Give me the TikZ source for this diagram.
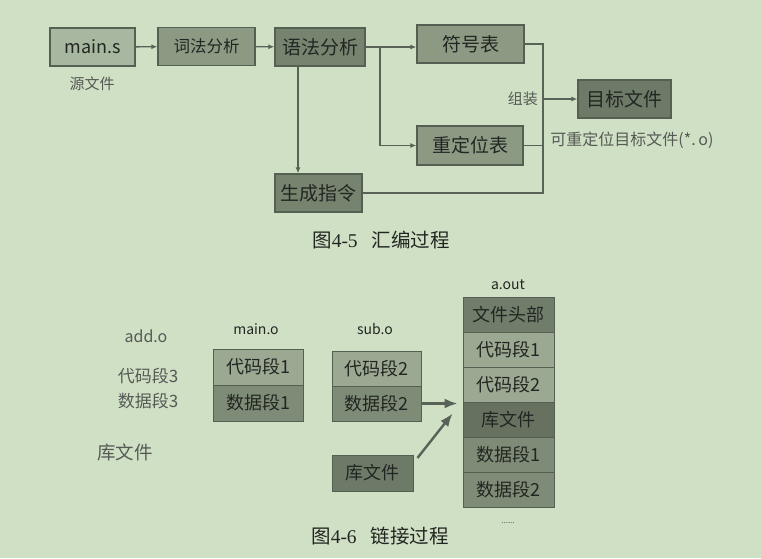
\documentclass[tikz,border=0pt]{standalone}
\usepackage{fontspec}
\setmainfont{Noto Sans CJK SC}
\newfontfamily\digitfont{Liberation Serif}
\usepackage{tikz}
\usetikzlibrary{positioning,arrows.meta}
\definecolor{bgc}{HTML}{D0E0C5}
\definecolor{edgec}{HTML}{555F52}
\definecolor{linec}{HTML}{596257}
\definecolor{txtc}{HTML}{222622}
\definecolor{lblc}{HTML}{555A55}
\definecolor{fillA}{HTML}{A8B79F}
\definecolor{fillB}{HTML}{8C9A84}
\definecolor{fillC}{HTML}{76846F}
\definecolor{fillD}{HTML}{6D7A68}
\definecolor{segcode}{HTML}{9BA892}
\definecolor{segdata}{HTML}{7E8B76}
\definecolor{seglib}{HTML}{66725F}
\definecolor{seghead}{HTML}{707D6A}
\tikzset{
  flowarrow/.style={-{Latex[length=6pt,width=5pt]}, line width=1.4pt, draw=linec},
  bigarrow/.style={-{Latex[length=13pt,width=10pt]}, line width=2.4pt, draw=linec},
  plainline/.style={line width=1.4pt, draw=linec},
  stagebox/.style={draw=edgec, line width=1.3pt, text=txtc, inner sep=0pt, align=center},
  segbox/.style={draw=edgec, line width=0.9pt, text=txtc, inner sep=0pt, minimum height=35pt, font=\fontsize{18}{20}\selectfont},
  lbl/.style={text=lblc, inner sep=1pt},
  filelbl/.style={text=txtc, inner sep=1pt, font=\fontsize{14}{16}\selectfont},
  caption/.style={text=txtc, inner sep=1pt, font=\fontsize{19.5}{22}\selectfont}
}
\begin{document}
\begin{tikzpicture}[x=1pt, y=-1pt]
  \useasboundingbox (0,0) rectangle (761,558);
  \fill[bgc] (0,0) rectangle (761,558);
  % assembly process
  \node[stagebox, fill=fillA, minimum width=85pt, minimum height=38pt, font=\fontsize{18}{20}\selectfont] (mains) at (92.5,47) {main.s};
  \node[lbl, font=\fontsize{15}{17}\selectfont] (srclbl) at (92,84) {源文件};
  \node[stagebox, fill=fillB, minimum width=97pt, minimum height=38pt, font=\fontsize{16.5}{18}\selectfont] (cifa) at (206.5,46.5) {词法分析};
  \node[stagebox, fill=fillC, minimum width=90pt, minimum height=38pt, font=\fontsize{19}{21}\selectfont] (yufa) at (320,47) {语法分析};
  \node[stagebox, fill=fillC, minimum width=87pt, minimum height=38pt, font=\fontsize{19}{21}\selectfont] (gen) at (318.5,193) {生成指令};
  \node[stagebox, fill=fillB, minimum width=107pt, minimum height=38pt, font=\fontsize{19}{21}\selectfont] (symtab) at (470.5,44) {符号表};
  \node[stagebox, fill=fillB, minimum width=106pt, minimum height=39pt, font=\fontsize{19}{21}\selectfont] (reloc) at (470,145.5) {重定位表};
  \node[stagebox, fill=fillD, minimum width=93pt, minimum height=38pt, font=\fontsize{19}{21}\selectfont] (target) at (624.5,99) {目标文件};
  \coordinate (split) at (380,47);
  \coordinate (bus) at (543,99);
  \draw[flowarrow] (mains) -- (cifa);
  \draw[flowarrow] (cifa) -- (yufa);
  \draw[flowarrow] (yufa.east) -- (yufa.east -| symtab.west);
  \draw[flowarrow] (split) |- (reloc.west);
  \draw[flowarrow] ([xshift=-22pt]yufa.south) -- ([xshift=-22pt]yufa.south |- gen.north);
  \draw[plainline] (symtab.east) -| (bus);
  \draw[plainline] (reloc.east) -| (bus);
  \draw[plainline] (gen.east) -| (bus);
  \draw[flowarrow] (bus) -- (target.west);
  \node[lbl, left=4pt of bus, font=\fontsize{15}{17}\selectfont] (asmlbl) {组装};
  \node[lbl, font=\fontsize{16}{18}\selectfont] (objlbl) at (632,140) {可重定位目标文件(*.\,o)};
  \node[caption] (cap1) at (381,240) {图{\digitfont 4-5}\hspace{14pt}汇编过程};
  % linking process
  \node[lbl, font=\fontsize{16}{18}\selectfont] (addo) at (146,336) {add.o};
  \node[lbl, font=\fontsize{17}{19}\selectfont] (addcode) at (148,376) {代码段3};
  \node[lbl, font=\fontsize{17}{19}\selectfont] (adddata) at (148,401) {数据段3};
  \node[lbl, font=\fontsize{18.5}{20}\selectfont] (liblbl) at (125,452) {库文件};
  \node[filelbl] (mainolbl) at (256,329) {main.o};
  \node[segbox, fill=segcode, minimum width=90pt, minimum height=36pt] (mcode) at (258,367) {代码段1};
  \node[segbox, fill=segdata, minimum width=90pt, minimum height=36pt] (mdata) at (258,403) {数据段1};
  \node[filelbl] (subolbl) at (375,329) {sub.o};
  \node[segbox, fill=segcode, minimum width=89pt] (scode) at (376.5,368.5) {代码段2};
  \node[segbox, fill=segdata, minimum width=89pt] (sdata) at (376.5,403.5) {数据段2};
  \node[segbox, fill=fillD, minimum width=81pt, minimum height=36pt] (libbox) at (372.5,473) {库文件};
  \node[filelbl] (aoutlbl) at (508,285) {a.out};
  \node[segbox, fill=seghead, minimum width=91pt] (ahead) at (508.5,314.5) {文件头部};
  \node[segbox, fill=segcode, minimum width=91pt] (acode1) at (508.5,349.5) {代码段1};
  \node[segbox, fill=segcode, minimum width=91pt] (acode2) at (508.5,384.5) {代码段2};
  \node[segbox, fill=seglib, minimum width=91pt] (alib) at (508.5,419.5) {库文件};
  \node[segbox, fill=segdata, minimum width=91pt] (adata1) at (508.5,454.5) {数据段1};
  \node[segbox, fill=segdata, minimum width=91pt] (adata2) at (508.5,489.5) {数据段2};
  \draw[bigarrow] (sdata.east) -- ([xshift=-5pt]sdata.east -| alib.west);
  \draw[bigarrow] ([xshift=4pt,yshift=15pt]libbox.east) -- ([xshift=-10pt,yshift=6pt]alib.west);
  \node[lbl, font=\fontsize{8}{9}\selectfont] (dots) at (508,523) {......};
  \node[caption] (cap2) at (380,536) {图{\digitfont 4-6}\hspace{14pt}链接过程};
\end{tikzpicture}
\end{document}
